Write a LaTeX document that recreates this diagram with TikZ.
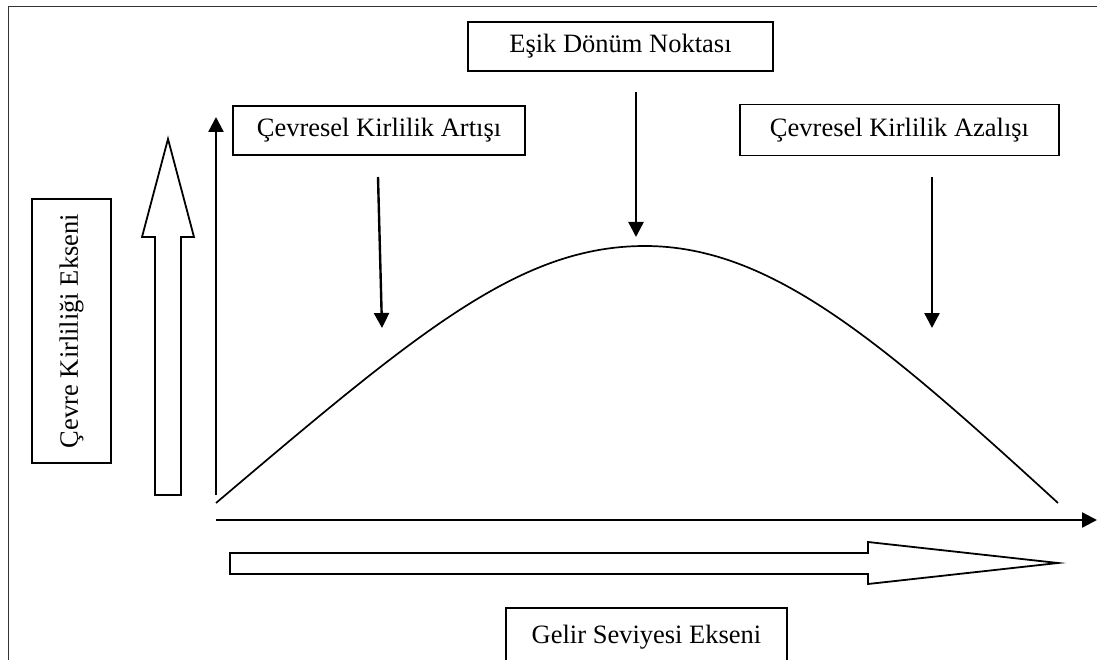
\documentclass[tikz,border=0pt]{standalone}
\usepackage{fontspec}
\setmainfont{Liberation Serif}
\usetikzlibrary{arrows.meta}
\tikzset{
  box/.style     = {draw, line width=1.6pt, align=center, inner sep=0pt, font=\fontsize{26.5}{30}\selectfont},
  axis/.style    = {-{Triangle[length=15pt,width=15pt]}, line width=2.4pt},
  pointer/.style = {axis},
  hollow/.style  = {draw, line width=1.8pt, fill=white, line join=miter},
  curve/.style   = {line width=1.7pt},
}

\begin{document}
\begin{tikzpicture}[x=1pt,y=-1pt]
    \useasboundingbox (0,0) rectangle (1097,660);
    % Outer frame
    \draw[line width=1pt, black!80] (1097,7) -- (8,7) -- (8,660);

    % Label boxes
    \node[box, minimum width=305pt, minimum height=49pt] (esik) at (620.5,46.5) {Eşik Dönüm Noktası};
    \node[box, minimum width=292pt, minimum height=49pt] (artis) at (379,130.5) {Çevresel Kirlilik Artışı};
    \node[box, minimum width=319pt, minimum height=51pt] (azalis) at (899.5,130) {Çevresel Kirlilik Azalışı};
    \node[box, rotate=90, minimum width=264pt, minimum height=79pt] (yname) at (71.5,331) {Çevre Kirliliği Ekseni};
    \node[box, minimum width=281pt, minimum height=58pt] (xname) at (646.5,637) {Gelir Seviyesi Ekseni};

    % Axes
    \coordinate (yfoot) at (216,495);
    \coordinate (ytop) at (216,117);
    \coordinate (xfoot) at (216,520);
    \coordinate (xend) at (1097,520);
    \draw[axis] (yfoot) -- (ytop);
    \draw[axis] (xfoot) -- (xend);

    % Curve
    \coordinate (c0) at (216,503);
    \coordinate (peak) at (645,246);
    \coordinate (c1) at (1058,503);
    \draw[curve] (c0) .. controls (420,330) and (520,246) .. (peak)
                      .. controls (770,246) and (880,340) .. (c1);

    % Pointers
    \coordinate (p1s) at (378,177);
    \coordinate (p1e) at (382,328);
    \coordinate (p2s) at (636,92);
    \coordinate (p2e) at (636,237);
    \coordinate (p3s) at (932,177);
    \coordinate (p3e) at (932,328);
    \draw[pointer] (p1s) -- (p1e);
    \draw[pointer] (p2s) -- (p2e);
    \draw[pointer] (p3s) -- (p3e);

    % Hollow arrows
    \draw[hollow] (155,495) -- (155,237) -- (142,237) -- (168,139) -- (194,237)
                  -- (181,237) -- (181,495) -- cycle;
    \draw[hollow] (230,553) -- (868,553) -- (868,542) -- (1058,563) -- (868,584)
                  -- (868,574) -- (230,574) -- cycle;
\end{tikzpicture}
\end{document}
